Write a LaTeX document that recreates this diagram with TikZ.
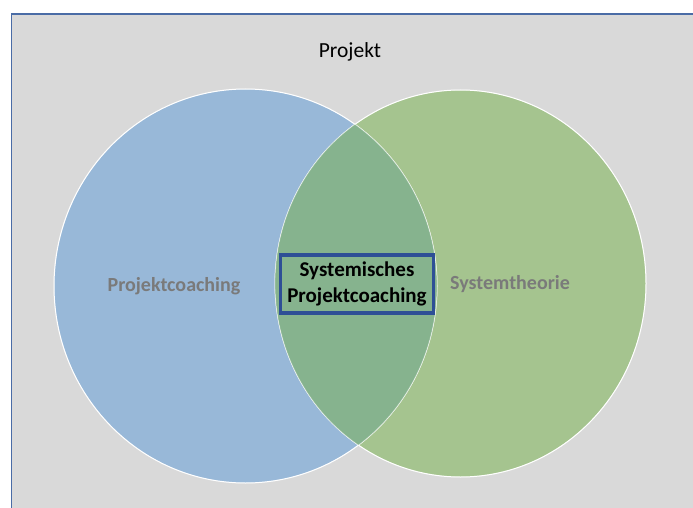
\documentclass[tikz,border=0pt]{standalone}
\usepackage{fontspec}
\setmainfont{Carlito}
\definecolor{bggray}{HTML}{D9D9D9}
\definecolor{frameblue}{HTML}{4A6CA6}
\definecolor{circblue}{HTML}{98B8D8}
\definecolor{circgreen}{HTML}{A5C48F}
\definecolor{lensgreen}{HTML}{86B38E}
\definecolor{labgray}{HTML}{7A7A7A}
\definecolor{boxblue}{HTML}{2E4F96}
\tikzset{
  setcirc/.style={draw=white, line width=1pt},
  innerarc/.style={draw=white, draw opacity=0.35, line width=0.8pt},
  title/.style={font=\fontsize{21.5}{25}\selectfont, text=black},
  setlabel/.style={font=\fontsize{20}{24}\selectfont\bfseries, text=labgray},
  corebox/.style={draw=boxblue, line width=3.2pt, minimum width=153pt, minimum height=58pt, align=center, inner sep=2pt, font=\fontsize{21}{26}\selectfont\bfseries, text=black}
}
\begin{document}
\begin{tikzpicture}[x=1pt,y=-1pt]
\useasboundingbox (0,0) rectangle (693,508);
\fill[bggray] (11.5,14) rectangle (693,508);
\draw[frameblue, line width=1.5pt] (11.5,508) -- (11.5,14) -- (693,14);
% circles
\fill[circblue] (245.5,286) ellipse [x radius=191.5, y radius=197];
\fill[circgreen] (460.5,283.5) ellipse [x radius=185.5, y radius=193.5];
\draw[setcirc] (245.5,286) ellipse [x radius=191.5, y radius=197];
\draw[setcirc] (460.5,283.5) ellipse [x radius=185.5, y radius=193.5];
\begin{scope}
  \clip (245.5,286) ellipse [x radius=191.5, y radius=197];
  \fill[lensgreen] (460.5,283.5) ellipse [x radius=185.5, y radius=193.5];
\end{scope}
\draw[innerarc] (245.5,286) ellipse [x radius=191.5, y radius=197];
\draw[innerarc] (460.5,283.5) ellipse [x radius=185.5, y radius=193.5];
\node[title] (projekt) at (350,52) {Projekt};
\node[setlabel] (pc) at (174,286) {Projektcoaching};
\node[setlabel] (st) at (510,284) {Systemtheorie};
\node[corebox] (spc) at (357,284) {Systemisches\\Projektcoaching};
\end{tikzpicture}
\end{document}
